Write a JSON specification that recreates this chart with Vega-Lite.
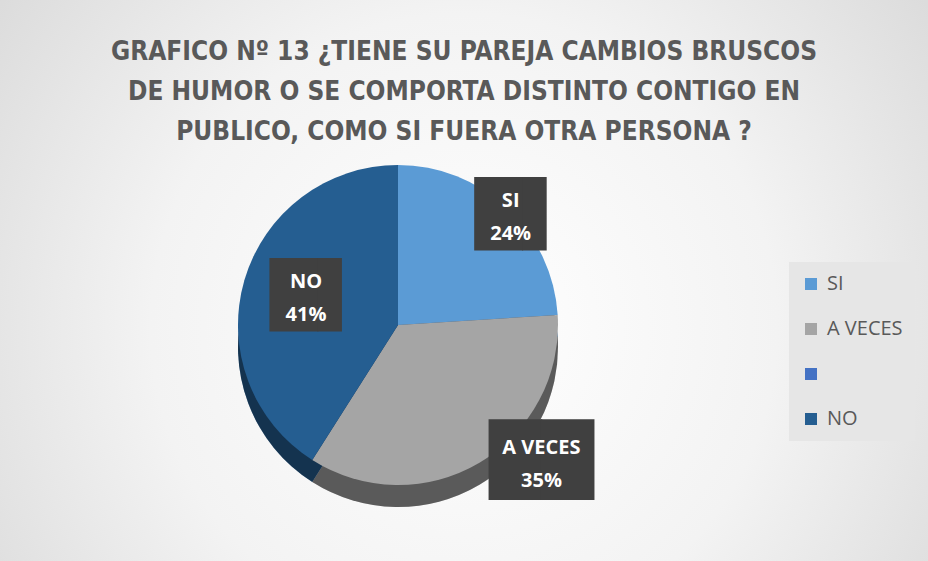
{
  "$schema": "https://vega.github.io/schema/vega-lite/v6.json",
  "width": 928,
  "height": 561,
  "autosize": {"type": "none"},
  "padding": 0,
  "background": "#ffffff",
  "config": {
    "view": {"stroke": "#cfcfcf", "strokeWidth": 1}
  },
  "title": {
    "text": ["GRAFICO Nº 13 ¿TIENE SU PAREJA CAMBIOS BRUSCOS", "DE HUMOR O SE COMPORTA DISTINTO CONTIGO EN", "PUBLICO, COMO SI FUERA OTRA PERSONA ?"],
    "fontSize": 26,
    "fontWeight": "bold",
    "font": "DejaVu Sans Condensed, Roboto, sans-serif",
    "color": "#595959",
    "lineHeight": 40,
    "anchor": "middle",
    "baseline": "top",
    "offset": -145
  },
  "data": {
    "values": [
      {"cat": "SI", "value": 24},
      {"cat": "A VECES", "value": 35},
      {"cat": "", "value": 0},
      {"cat": "NO", "value": 41}
    ]
  },
  "transform": [
    {"calculate": "[datum.cat, datum.value + '%']", "as": "label"},
    {"calculate": "indexof(['SI','A VECES','','NO'], datum.cat)", "as": "ord"}
  ],
  "layer": [
    {
      "data": {"values": [{}]},
      "mark": {"type": "rect", "strokeWidth": 0,
        "color": {"gradient": "radial", "x1": 0.5, "y1": 0.55, "x2": 0.5, "y2": 0.55, "r1": 0, "r2": 0.75,
          "stops": [{"offset": 0, "color": "#ffffff"}, {"offset": 0.45, "color": "#f3f3f3"}, {"offset": 1, "color": "#d0d0d0"}]}},
      "encoding": {}
    },
    {
      "mark": {"type": "arc", "radius": 160, "x": 398, "y": 347, "strokeWidth": 0},
      "encoding": {
        "theta": {"field": "value", "type": "quantitative", "stack": true},
        "order": {"field": "ord", "type": "quantitative", "sort": "ascending"},
        "color": {
          "field": "cat", "type": "nominal", "sort": ["SI", "A VECES", "", "NO"],
          "scale": {"domain": ["SI", "A VECES", "", "NO"], "range": ["#5B9BD5", "#A5A5A5", "#4472C4", "#255E91"]},
          "legend": {"title": null, "orient": "none", "legendX": 789, "legendY": 262, "fillColor": "#e6e6e6", "padding": 12,
            "rowPadding": 25, "symbolType": "square", "symbolSize": 144, "symbolStrokeWidth": 0,
            "labelFontSize": 20, "labelFont": "Open Sans", "labelColor": "#595959", "labelOffset": 6}
        }
      }
    },
    {
      "mark": {"type": "arc", "radius": 160, "x": 398, "y": 347, "strokeWidth": 0, "color": "#000000", "opacity": 0.45},
      "encoding": {
        "theta": {"field": "value", "type": "quantitative", "stack": true},
        "order": {"field": "ord", "type": "quantitative", "sort": "ascending"}
      }
    },
    {
      "mark": {"type": "arc", "radius": 160, "x": 398, "y": 325, "strokeWidth": 0},
      "encoding": {
        "theta": {"field": "value", "type": "quantitative", "stack": true},
        "order": {"field": "ord", "type": "quantitative", "sort": "ascending"},
        "color": {"field": "cat", "type": "nominal", "sort": ["SI", "A VECES", "", "NO"]}
      }
    },
    {
      "mark": {"type": "text", "x": 398, "y": 325, "font": "DejaVu Sans", "color": "#404040", "baseline": "middle", "align": "center",
        "fontSize": {"expr": "datum.cat === 'A VECES' ? 68 : 62"},
        "text": {"expr": "datum.value > 0 ? (datum.cat === 'A VECES' ? '██' : '█▌') : ''"},
        "radius": {"expr": "datum.cat === 'A VECES' ? 160 : datum.cat === 'NO' ? 100 : 150"},
        "dx": {"expr": "datum.cat === 'A VECES' ? 62 : datum.cat === 'SI' ? 22 : 16"}},
      "encoding": {
        "theta": {"field": "value", "type": "quantitative", "stack": true},
        "order": {"field": "ord", "type": "quantitative", "sort": "ascending"}
      }
    },
    {
      "mark": {"type": "text", "x": 398, "y": 325, "font": "Open Sans", "fontWeight": "bold", "fontSize": 20, "lineHeight": 33, "color": "#ffffff", "baseline": "middle", "align": "center", "dy": -15,
        "radius": {"expr": "datum.cat === 'A VECES' ? 160 : datum.cat === 'NO' ? 100 : 150"},
        "dx": {"expr": "datum.cat === 'A VECES' ? 62 : datum.cat === 'SI' ? 10 : 4"}},
      "encoding": {
        "theta": {"field": "value", "type": "quantitative", "stack": true},
        "order": {"field": "ord", "type": "quantitative", "sort": "ascending"},
        "text": {"condition": {"test": "datum.value > 0", "field": "label"}, "value": ""}
      }
    }
  ]
}
